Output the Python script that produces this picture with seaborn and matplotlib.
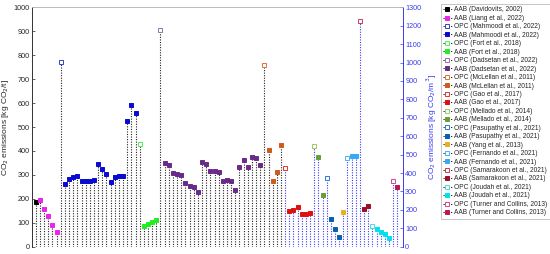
import matplotlib
matplotlib.use("Agg")
import matplotlib.pyplot as plt
from matplotlib.lines import Line2D
import numpy as np
import seaborn as sns

# ---------------------------------------------------------------------------
# values
# ---------------------------------------------------------------------------
# left axis: kg CO2 / t
davidovits_aab = [187]
liang_aab = [193, 159, 127, 92, 60]
mahmoodi_opc = [770]
mahmoodi_aab = [262, 281, 291, 294, 274, 273, 274, 279, 344, 323,
                304, 269, 291, 295, 295, 525, 593, 557]
fort_opc = [428]
fort_aab = [85, 95, 103, 113]
dadsetan_opc = [907]
dadsetan_aab = [348, 343, 308, 305, 299, 267, 255, 249, 228, 352, 345, 318,
                316, 312, 274, 277, 273, 237, 333, 362, 334, 375, 370, 343]
mclellan_opc = [760]
mclellan_aab = [405, 273, 312, 426]

# right axis: kg CO2 / m3
gao_opc = [429]
gao_aab = [192, 199, 214, 176, 178, 185]
mellado_opc = [547]
mellado_aab = [487, 281]
pasupathy_opc = [374]
pasupathy_aab = [149, 96, 51]
yang_aab = [188]
fernando_opc = [484]
fernando_aab = [495, 495]
samarakoon_opc = [1228]
samarakoon_aab = [203, 222]
joudah_opc = [114]
joudah_aab = [98, 82, 67, 49]
turner_opc = [357]
turner_aab = [322]

left_series = [
    ("AAB (Davidovits, 2002)", davidovits_aab),
    ("AAB (Liang et al., 2022)", liang_aab),
    ("OPC (Mahmoodi et al., 2022)", mahmoodi_opc),
    ("AAB (Mahmoodi et al., 2022)", mahmoodi_aab),
    ("OPC (Fort et al., 2018)", fort_opc),
    ("AAB (Fort et al., 2018)", fort_aab),
    ("OPC (Dadsetan et al., 2022)", dadsetan_opc),
    ("AAB (Dadsetan et al., 2022)", dadsetan_aab),
    ("OPC (McLellan et al., 2011)", mclellan_opc),
    ("AAB (McLellan et al., 2011)", mclellan_aab),
]
right_series = [
    ("OPC (Gao et al., 2017)", gao_opc),
    ("AAB (Gao et al., 2017)", gao_aab),
    ("OPC (Mellado et al., 2014)", mellado_opc),
    ("AAB (Mellado et al., 2014)", mellado_aab),
    ("OPC (Pasupathy et al., 2021)", pasupathy_opc),
    ("AAB (Pasupathy et al., 2021)", pasupathy_aab),
    ("AAB (Yang et al., 2013)", yang_aab),
    ("OPC (Fernando et al., 2021)", fernando_opc),
    ("AAB (Fernando et al., 2021)", fernando_aab),
    ("OPC (Samarakoon et al., 2021)", samarakoon_opc),
    ("AAB (Samarakoon et al., 2021)", samarakoon_aab),
    ("OPC (Joudah et al., 2021)", joudah_opc),
    ("AAB (Joudah et al., 2021)", joudah_aab),
    ("OPC (Turner and Collins, 2013)", turner_opc),
    ("AAB (Turner and Collins, 2013)", turner_aab),
]

# marker colours (OPC = open square, AAB = filled square)
colors = {
    "AAB (Davidovits, 2002)": "#000000",
    "AAB (Liang et al., 2022)": "#ee22ee",
    "OPC (Mahmoodi et al., 2022)": "#3344cc",
    "AAB (Mahmoodi et al., 2022)": "#0a0ad0",
    "OPC (Fort et al., 2018)": "#55ee55",
    "AAB (Fort et al., 2018)": "#22ee22",
    "OPC (Dadsetan et al., 2022)": "#9a70b0",
    "AAB (Dadsetan et al., 2022)": "#6a2a8a",
    "OPC (McLellan et al., 2011)": "#e0753a",
    "AAB (McLellan et al., 2011)": "#d25a18",
    "OPC (Gao et al., 2017)": "#e83030",
    "AAB (Gao et al., 2017)": "#e01010",
    "OPC (Mellado et al., 2014)": "#99cc66",
    "AAB (Mellado et al., 2014)": "#66a030",
    "OPC (Pasupathy et al., 2021)": "#2a7acc",
    "AAB (Pasupathy et al., 2021)": "#0860b0",
    "AAB (Yang et al., 2013)": "#e8b020",
    "OPC (Fernando et al., 2021)": "#44b4f0",
    "AAB (Fernando et al., 2021)": "#33aaf5",
    "OPC (Samarakoon et al., 2021)": "#c83c5c",
    "AAB (Samarakoon et al., 2021)": "#9a1028",
    "OPC (Joudah et al., 2021)": "#44dde0",
    "AAB (Joudah et al., 2021)": "#00e0ee",
    "OPC (Turner and Collins, 2013)": "#d04a88",
    "AAB (Turner and Collins, 2013)": "#c41450",
}

RIGHT_BLUE = "#3a3aee"

sns.set_style("white")
plt.rcParams["font.family"] = ["Liberation Sans", "DejaVu Sans"]

fig = plt.figure(figsize=(5.5, 2.54), dpi=100)
ax = fig.add_axes([0.058, 0.029, 0.675, 0.942])
ax2 = ax.twinx()


def draw(target, series, start, stem_color):
    pos = start
    handles = []
    for label, vals in series:
        xs = np.arange(pos, pos + len(vals))
        pos += len(vals)
        c = colors[label]
        face = "white" if label.startswith("OPC") else c
        target.vlines(xs, 0, vals, colors=stem_color, linestyles=(0, (1, 1.3)),
                      linewidth=0.8, zorder=1)
        sns.lineplot(x=xs, y=vals, ax=target, marker="s", linestyle="",
                     color=c, markerfacecolor=face, markeredgecolor=c,
                     markeredgewidth=0.7, markersize=2.8, zorder=3)
        handles.append(Line2D([], [], color="k", linestyle=(0, (1.5, 1.5)),
                              linewidth=0.6, marker="s", markersize=2.6,
                              markerfacecolor=face, markeredgecolor=c,
                              markeredgewidth=0.7, label=label))
    return pos, handles


nxt, h1 = draw(ax, left_series, 1, "#222222")
_, h2 = draw(ax2, right_series, nxt, RIGHT_BLUE)

ax.set_xlim(0.05, 89.4)
ax.set_ylim(0, 1000)
ax2.set_ylim(0, 1300)
ax.set_yticks(np.arange(0, 1001, 100))
ax2.set_yticks(np.arange(0, 1301, 100))
ax.set_xticks([])

ax.tick_params(axis="y", direction="in", length=2.5, width=0.5,
               labelsize=5.2, pad=1.5, colors="#262626", left=True)
ax2.tick_params(axis="y", direction="in", length=2.5, width=0.5,
                labelsize=5.2, pad=1.5, colors=RIGHT_BLUE, right=True)

ax.set_ylabel(r"CO$_2$ emissions [kg CO$_2$/t]", fontsize=6, labelpad=2)
ax2.set_ylabel(r"CO$_2$ emissions [kg CO$_2$/m$^3$]", fontsize=6,
               color=RIGHT_BLUE, labelpad=2)

for a in (ax, ax2):
    a.spines["top"].set_color("#bbbbbb")
    a.spines["bottom"].set_visible(False)
    a.spines["left"].set_color("#333333")
    a.spines["right"].set_color(RIGHT_BLUE)
    for s in a.spines.values():
        s.set_linewidth(0.6)
    a.set_xlabel("")
    if a.get_legend():
        a.get_legend().remove()

leg = fig.legend(handles=h1 + h2, loc="upper left",
                 bbox_to_anchor=(0.801, 0.985), fontsize=4.75, frameon=True,
                 fancybox=False, edgecolor="#999999", handlelength=1.3,
                 handletextpad=0.35, labelspacing=0.22, borderpad=0.4,
                 borderaxespad=0)
leg.get_frame().set_linewidth(0.5)

fig.savefig("out.png", dpi=100)
